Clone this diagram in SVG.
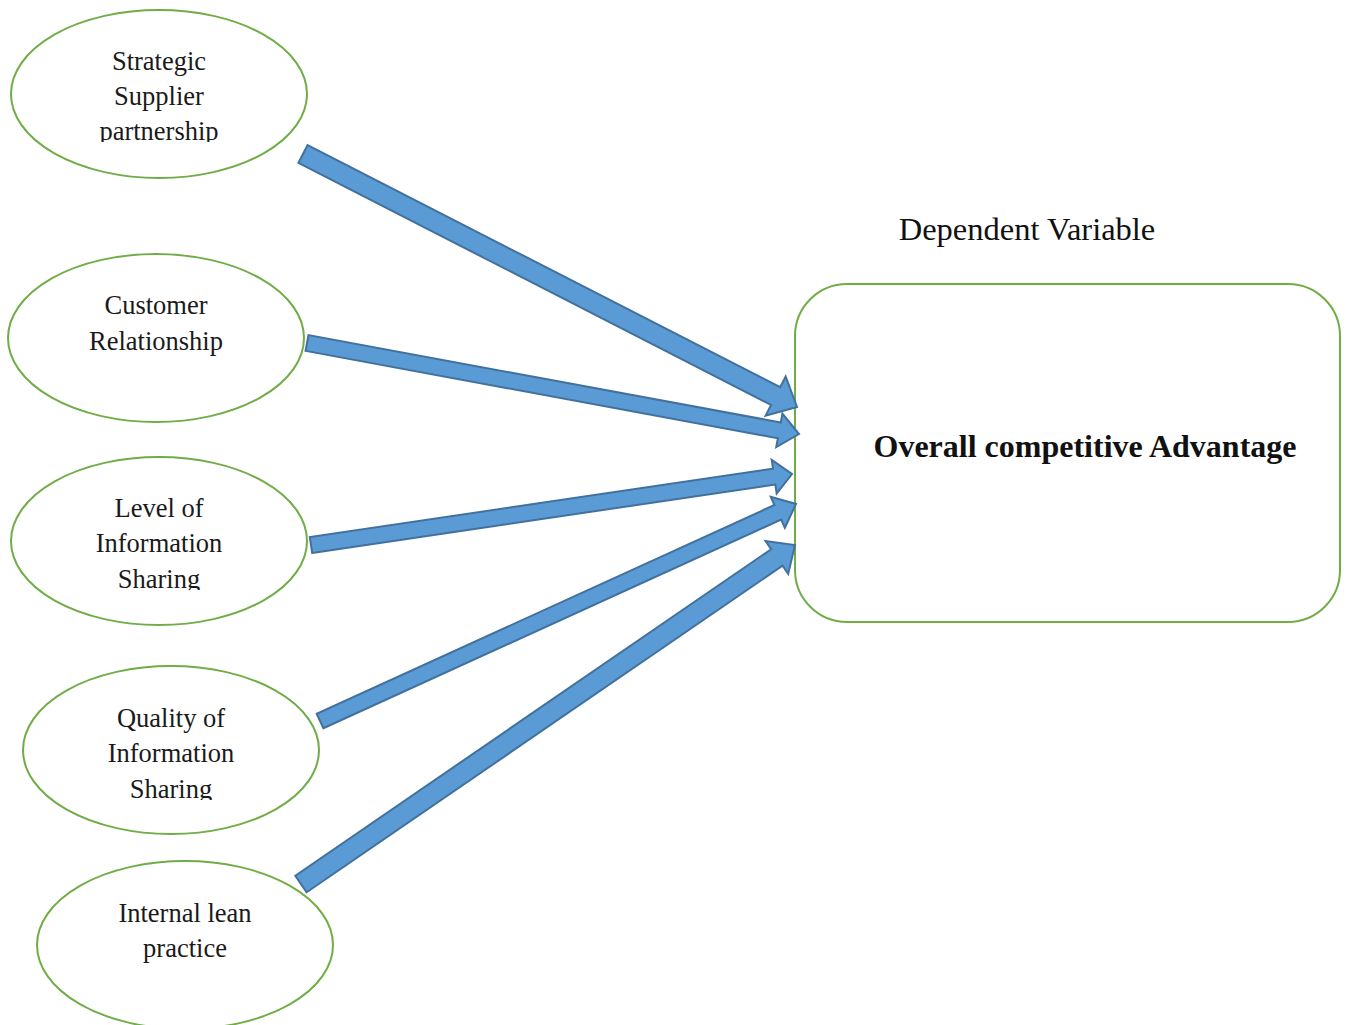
<svg xmlns="http://www.w3.org/2000/svg" width="1348" height="1025" viewBox="0 0 1348 1025">
<style>
.node ellipse{fill:#fff;stroke:#70AD47;stroke-width:2}
.box{fill:#fff;stroke:#70AD47;stroke-width:2}
.t{font-family:"Liberation Serif","Times New Roman",serif;font-size:26.5px;fill:#1a1a1a;text-anchor:middle}
.arr polygon{fill:#5B9BD5;stroke:#41719C;stroke-width:2;stroke-linejoin:miter}
</style>
<defs>
<clipPath id="c1"><rect x="0" y="0" width="400" height="142"/></clipPath>
<clipPath id="c3"><rect x="0" y="400" width="400" height="190"/></clipPath>
<clipPath id="c4"><rect x="0" y="600" width="400" height="200"/></clipPath>
</defs>
<rect width="1348" height="1025" fill="#fff"/>
<g id="n1" class="node">
<ellipse cx="159" cy="94" rx="148" ry="84"/>
<text class="t" x="159" y="70">Strategic</text>
<text class="t" x="159" y="105">Supplier</text>
<text class="t" x="159" y="140" clip-path="url(#c1)">partnership</text>
</g>
<g id="n2" class="node">
<ellipse cx="156" cy="338" rx="148" ry="84"/>
<text class="t" x="156" y="314">Customer</text>
<text class="t" x="156" y="350">Relationship</text>
</g>
<g id="n3" class="node">
<ellipse cx="159" cy="541" rx="148" ry="84"/>
<text class="t" x="159" y="517">Level of</text>
<text class="t" x="159" y="552">Information</text>
<text class="t" x="159" y="588" clip-path="url(#c3)">Sharing</text>
</g>
<g id="n4" class="node">
<ellipse cx="171" cy="750" rx="148" ry="84"/>
<text class="t" x="171" y="727">Quality of</text>
<text class="t" x="171" y="762">Information</text>
<text class="t" x="171" y="798" clip-path="url(#c4)">Sharing</text>
</g>
<g id="n5" class="node">
<ellipse cx="185" cy="945" rx="148" ry="84"/>
<text class="t" x="185" y="922">Internal lean</text>
<text class="t" x="185" y="957">practice</text>
</g>
<g id="label">
<text x="1027" y="240" style="font-family:'Liberation Serif','Times New Roman',serif;font-size:32.5px;fill:#111;text-anchor:middle">Dependent Variable</text>
</g>
<g id="target">
<rect class="box" x="795" y="284" width="545" height="338" rx="52" ry="52"/>
<text x="1085" y="457" style="font-family:'Liberation Serif','Times New Roman',serif;font-size:32px;font-weight:bold;fill:#111;text-anchor:middle">Overall competitive Advantage</text>
</g>
<g id="connectors" class="arr">
<polygon points="298.44,162.90 771.08,404.96 765.61,415.64 797,407 785.67,376.48 780.20,387.16 307.56,145.10"/>
<polygon points="305.54,350.87 777.87,438.23 776.24,447.08 799,434 782.42,413.64 780.79,422.49 308.46,335.13"/>
<polygon points="312.17,552.91 775.36,484.54 776.67,493.45 792,474 771.71,459.81 773.02,468.72 309.83,537.09"/>
<polygon points="323.32,728.28 781.12,519.58 784.85,527.77 796,504 770.75,496.83 774.48,505.02 316.68,713.72"/>
<polygon points="306.66,892.25 782.52,565.70 788.18,573.94 795,545 765.54,540.96 771.20,549.20 295.34,875.75"/>
</g>
</svg>
